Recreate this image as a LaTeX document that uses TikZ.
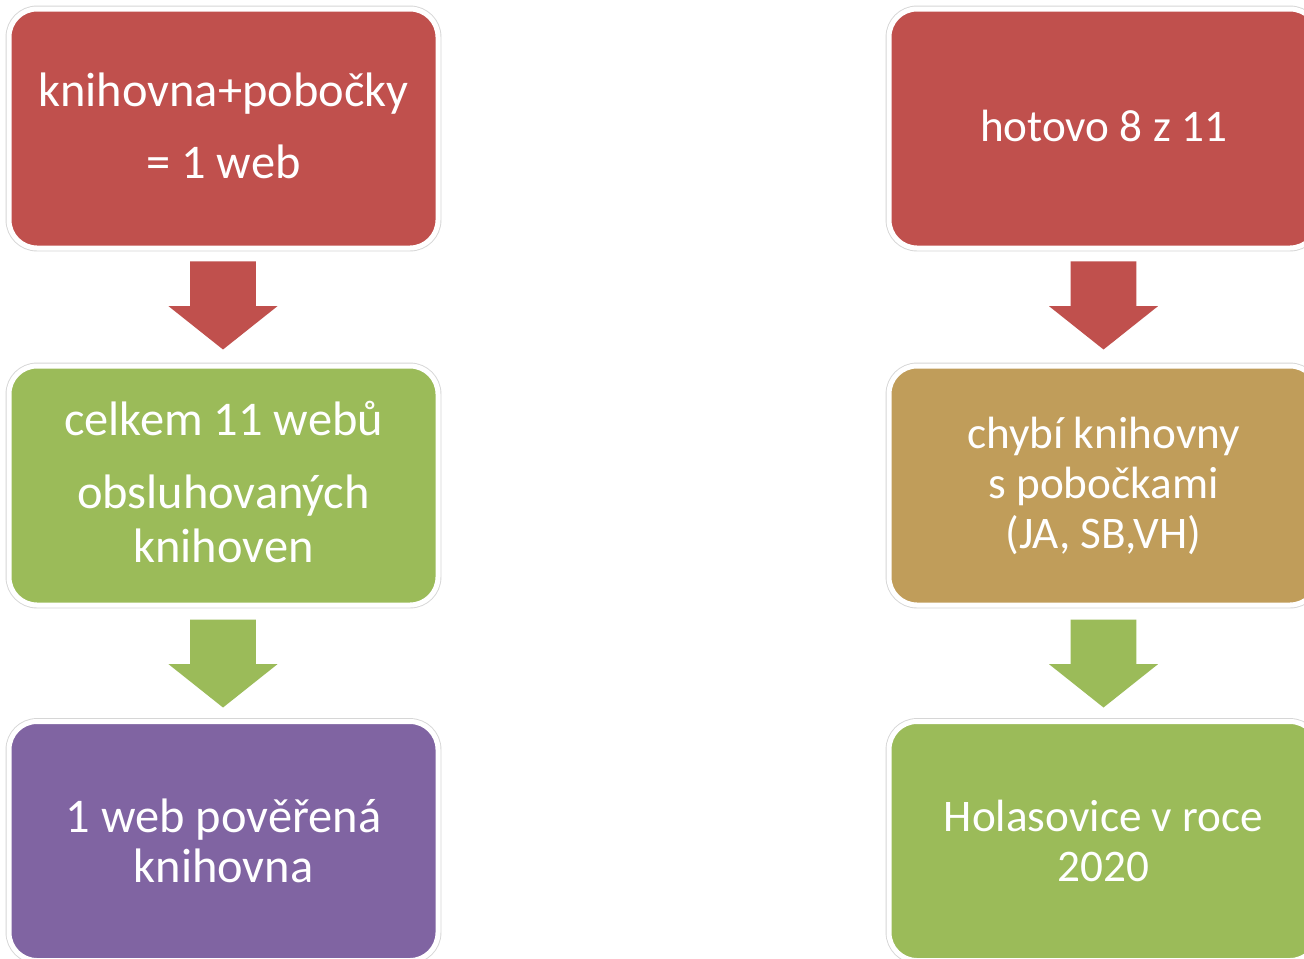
\documentclass[tikz,border=0pt]{standalone}
\usepackage{fontspec}
\setmainfont{Carlito}
\usetikzlibrary{shapes.arrows}
\definecolor{cred}{HTML}{C0504D}
\definecolor{cgreen}{HTML}{9BBB59}
\definecolor{cpurple}{HTML}{8064A2}
\definecolor{ctan}{HTML}{C09D5A}
\tikzset{
  box/.style={rectangle, rounded corners=14pt, minimum width=214.5pt, minimum height=119.5pt,
    inner sep=0pt, text=white, align=center, font=\fontsize{24.2}{25}\selectfont,
    draw=white, line width=2.5pt,
    preaction={draw=black!16, line width=3.4pt}},
  rbox/.style={box, font=\fontsize{22.6}{25}\selectfont},
  blockarrow/.style={shape=single arrow, rotate=-90, inner xsep=0pt, inner ysep=16.25pt,
    minimum height=44pt, single arrow head extend=10.75pt, single arrow tip angle=103,
    draw=none, anchor=tip}
}
\begin{document}
\begin{tikzpicture}[x=0.5pt,y=-0.5pt]
\useasboundingbox (0,0) rectangle (1304,958);
\clip (0,0) rectangle (1304,958);
\fill[white] (0,0) rectangle (1304,958);
% left column
\node[box, fill=cred] (l1) at (223.5,128.5) {};
\node[text=white, align=center, font=\fontsize{24.2}{25}\selectfont] (l1t) at (223.5,125.5) {knihovna+pobočky\\[11pt]= 1 web};
\node[box, fill=cgreen] (l2) at (223.5,485.5) {};
\node[text=white, align=center, font=\fontsize{24.2}{25}\selectfont] (l2t) at (223.5,482.5) {celkem 11 webů\\[11.5pt]obsluhovaných\\[2pt]knihoven};
\node[box, fill=cpurple] (l3) at (223.5,841) {1 web pověřená\\knihovna};
% right column
\node[rbox, fill=cred] (r1) at (1103.5,128.5) {};
\node[text=white, font=\fontsize{22.6}{25}\selectfont] (r1t) at (1103.5,125.5) {hotovo 8 z 11};
\node[rbox, fill=ctan] (r2) at (1103.5,485.5) {chybí knihovny\\s pobočkami\\(JA, SB,VH)};
\node[rbox, fill=cgreen] (r3) at (1103.5,841) {Holasovice v roce\\2020};
% arrows
\node[blockarrow, fill=cred] (a1) at (223,350) {};
\node[blockarrow, fill=cgreen] (a2) at (223,708) {};
\node[blockarrow, fill=cred] (a3) at (1103.5,350) {};
\node[blockarrow, fill=cgreen] (a4) at (1103.5,708) {};
\end{tikzpicture}
\end{document}
